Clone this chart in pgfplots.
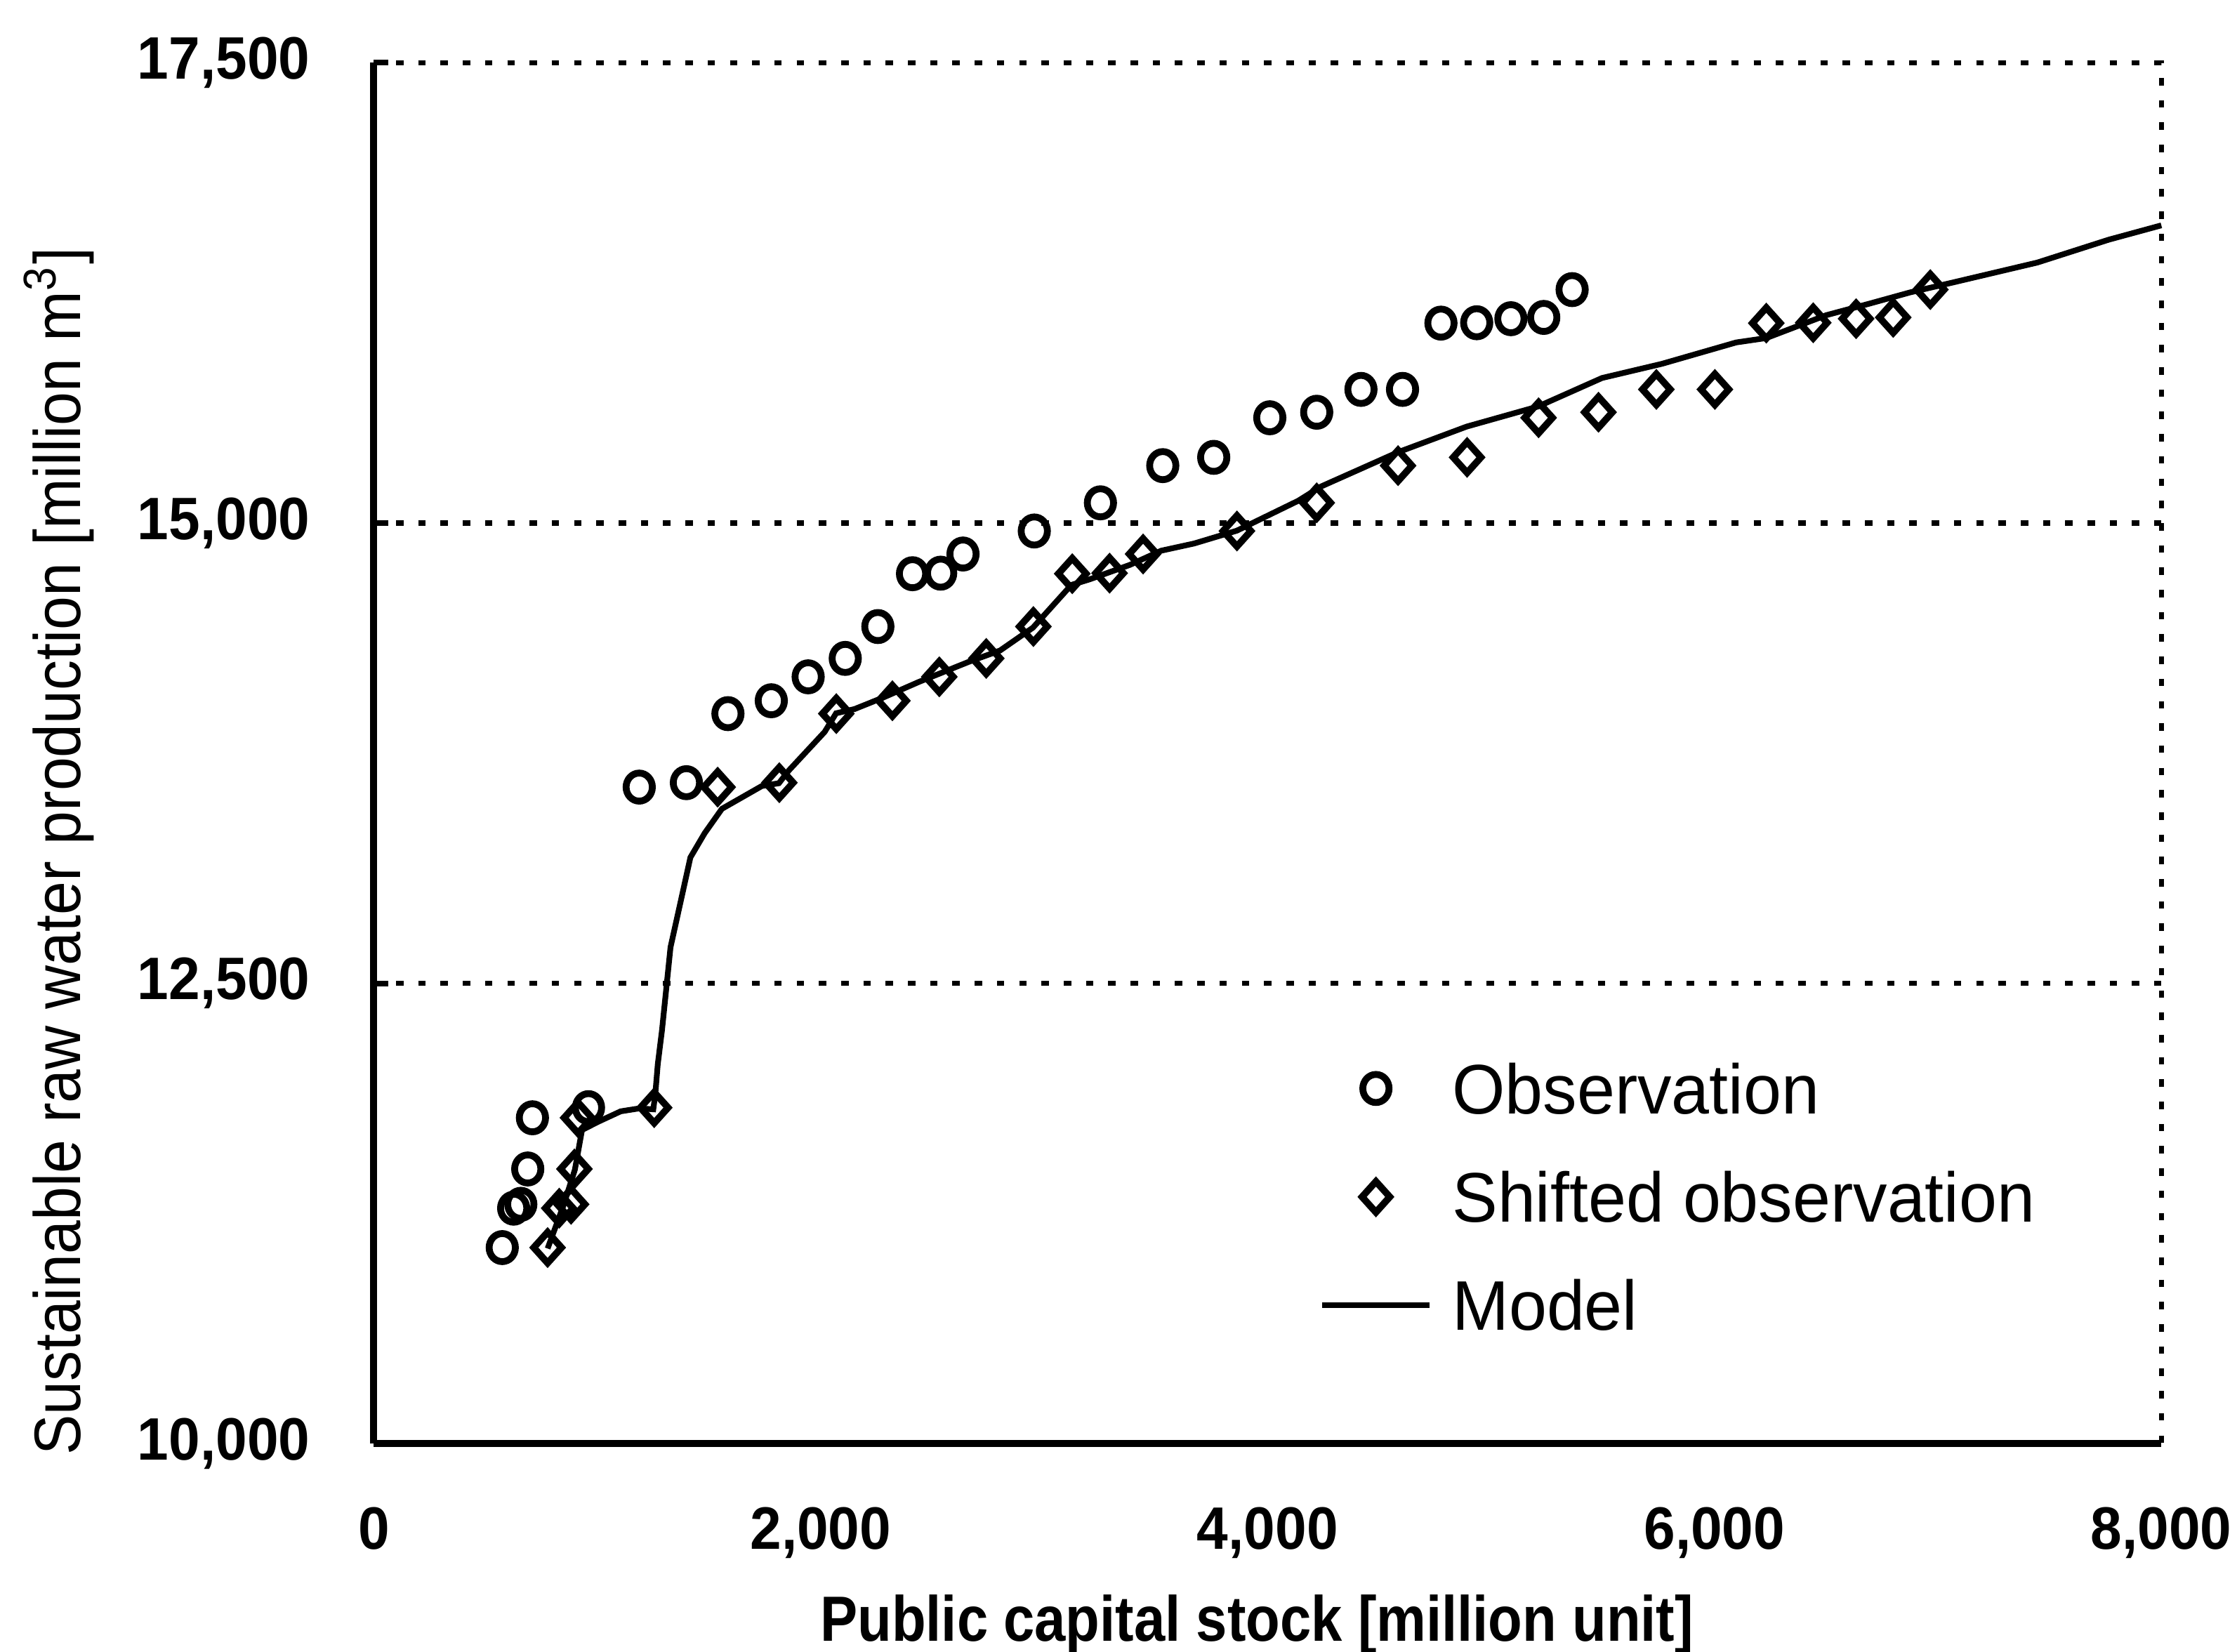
\documentclass[border=0pt]{standalone}
\usepackage{fontspec}
\setmainfont{Liberation Sans}
\newfontfamily\tickfont[FakeStretch=0.94]{Liberation Sans}
\newfontfamily\ylabfont[FakeStretch=0.92]{Liberation Sans}
\newfontfamily\xlabfont[FakeStretch=0.875]{Liberation Sans}
\newfontfamily\legfont[FakeStretch=0.97]{Liberation Sans}
\usepackage{pgfplots}
\usepackage{pgfplotstable}
\pgfplotsset{compat=1.18}

% Observed production against public capital stock
\pgfplotstableread{
x y
575 11065
626 11279
658 11300
689 11492
710 11770
961 11825
1188 13566
1399 13590
1585 13965
1779 14035
1944 14165
2110 14265
2256 14438
2411 14725
2537 14728
2637 14832
2956 14957
3252 15110
3531 15312
3759 15357
4010 15572
4220 15602
4418 15726
4604 15726
4776 16086
4936 16088
5089 16110
5236 16117
5363 16268
}\observed

% The same observations shifted along the capital axis
\pgfplotstableread{
x y
778 11065
830 11279
883 11300
898 11492
914 11770
1255 11825
1539 13566
1815 13590
2070 13965
2321 14035
2531 14165
2741 14265
2952 14438
3126 14725
3293 14728
3443 14832
3863 14957
4220 15110
4584 15312
4893 15357
5213 15572
5481 15602
5740 15726
6002 15726
6232 16086
6442 16088
6634 16110
6800 16117
6966 16268
}\shifted

% Model curve
\pgfplotstableread{
x y
778 11060
849 11294
900 11488
932 11704
1009 11751
1105 11805
1188 11821
1251 11816
1260 11900
1271 12061
1290 12247
1328 12696
1379 12975
1417 13184
1481 13316
1558 13448
1737 13572
1813 13587
1858 13657
2018 13866
2069 13967
2152 13990
2279 14052
2439 14137
2662 14246
2803 14308
2950 14432
3122 14664
3205 14695
3384 14773
3524 14850
3671 14889
3863 14959
4137 15121
4240 15199
4584 15385
4891 15524
5210 15633
5497 15788
5765 15865
6097 15981
6232 16005
6500 16129
6691 16191
6876 16253
7068 16307
7445 16415
7764 16539
8000 16617
}\model

\tikzset{dotline/.style={line width=0.9pt, dash pattern=on 1.3pt off 2.6pt}}

\begin{document}
\begin{tikzpicture}
\useasboundingbox (-65.5pt,-36.5pt) rectangle (326.5pt,253pt);
\begin{axis}[
  at={(0pt,0pt)}, anchor=south west,
  scale only axis, width=313.25pt, height=242pt,
  xmin=0, xmax=8000, ymin=10000, ymax=17500,
  axis x line*=bottom, axis y line*=left,
  axis line style={line width=1.2pt},
  clip=false,
  xtick={0,2000,4000,6000,8000},
  ytick={10000,12500,15000,17500},
  scaled x ticks=false, scaled y ticks=false,
  xtick style={draw=none},
  ytick style={line width=1pt, black},
  tick align=inside,
  major tick length=2.5pt,
  ymajorgrids,
  major grid style={dotline, black},
  /pgf/number format/.cd, 1000 sep={,}, assume math mode=true, /pgfplots/.cd,
  tick label style={font=\tickfont\bfseries\fontsize{10.5}{12}\selectfont, inner sep=0pt},
  xticklabel style={anchor=north, yshift=-11pt},
  yticklabel style={anchor=east, xshift=-11pt},
  legend image code/.code={\draw[mark repeat=2,mark phase=2,#1] plot coordinates {(0pt,0pt) (9.375pt,0pt) (18.75pt,0pt)};},
  legend style={at={(rel axis cs:0.5291,0.2754)}, anchor=north west,
    draw=none, fill=none, inner sep=0pt, outer sep=0pt,
    row sep=10.2pt,
    font=\legfont\fontsize{12.3}{14}\selectfont,
    cells={anchor=west},
    nodes={inner sep=0pt, text height=8.8pt, text depth=0pt},
    /tikz/every odd column/.append style={column sep=3.5pt}},
]
\addplot[only marks, mark=o, mark size=2.3pt, mark options={line width=1.2pt, yscale=1.07}, black]
  table {\observed};
\addlegendentry{Observation}
\addplot[only marks, mark=diamond, mark size=2.7pt, mark options={line width=1.2pt, xscale=1.2}, black]
  table {\shifted};
\addlegendentry{Shifted observation}
\addplot[line width=1pt, black, no marks] table {\model};
\addlegendentry{Model}
\draw[dotline] (rel axis cs:0,1) -- (rel axis cs:1,1) -- (rel axis cs:1,0);
\end{axis}
\node[rotate=90, anchor=base, font=\ylabfont\fontsize{11.5}{13}\selectfont]
  at (-51.4pt,103.75pt) {Sustainable raw water production [million m\textsuperscript{3}]};
\node[anchor=base, font=\xlabfont\bfseries\fontsize{11.2}{13}\selectfont]
  at (154.75pt,-34.65pt) {Public capital stock [million unit]};
\end{tikzpicture}
\end{document}
